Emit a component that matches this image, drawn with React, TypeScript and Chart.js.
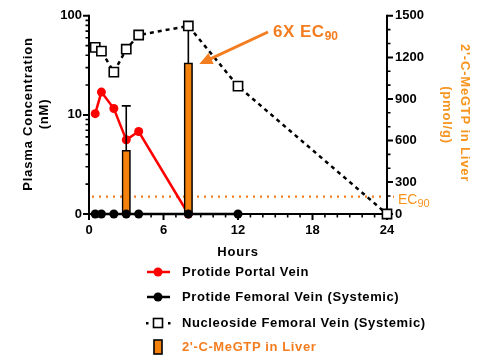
import React, { useEffect, useRef } from 'react';
import { Chart, registerables } from 'chart.js';

Chart.register(...registerables);

// ---- data ----
const portalHours = [0.5, 1, 2, 3, 4, 8];
const portalConc = [10.3, 17, 11.6, 5.6, 6.8, 0];
const femoralHours = [0.5, 1, 2, 3, 4, 8, 12];
const femoralConc = [0, 0, 0, 0, 0, 0, 0];
const nucleosideHours = [0.5, 1, 2, 3, 4, 8, 12, 24];
const nucleosideConc = [48, 44, 27, 46, 64, 79, 19.5, 0];
const liverHours = [3, 8];
const liverMeGTP = [530, 1160];
const liverMeGTPErr = [320, 270];
const ec90 = 195;

const xTicks = [0, 6, 12, 18, 24];
const leftTicks = [0, 10, 100];
const rightTicks = [0, 300, 600, 900, 1200, 1500];
const rightMinorTicks = [200, 400, 500, 700, 800, 1000, 1100, 1300, 1400];

const legendLabels = [
  'Protide Portal Vein',
  'Protide Femoral Vein (Systemic)',
  'Nucleoside Femoral Vein (Systemic)',
  "2'-C-MeGTP in Liver",
];

// axis floors that are labelled "0"
const LOG_FLOOR = 1;
const RIGHT_FLOOR = 70;
const toLeft = (v: number) => (v <= 0 ? LOG_FLOOR : v);
const toRight = (v: number) => (v <= 0 ? RIGHT_FLOOR : v);

const FONT_FAMILY = "'Liberation Sans', Arial, sans-serif";
const ORANGE_BAR = '#F5820D';
const ORANGE_TEXT = '#F7941D';
const ORANGE_ARROW = '#F47D20';

function drawText(
  ctx: CanvasRenderingContext2D,
  text: string,
  x: number,
  y: number,
  font: string,
  color: string,
  align: CanvasTextAlign = 'left',
  spacing = 0,
  baseline: CanvasTextBaseline = 'middle'
) {
  ctx.save();
  ctx.font = font;
  (ctx as any).letterSpacing = spacing + 'px';
  ctx.fillStyle = color;
  ctx.textAlign = align;
  ctx.textBaseline = baseline;
  ctx.fillText(text, x, y);
  ctx.restore();
}

const customPlugin = {
  id: 'custom',
  beforeDatasetsDraw(chart: any) {
    const { ctx, chartArea, scales } = chart;
    const x = scales.x;
    const y = scales.y;
    const y2 = scales.y2;
    const L = chartArea.left;
    const R = chartArea.right;
    const B = chartArea.bottom;
    const T = chartArea.top;

    // EC90 dotted line
    ctx.save();
    const ecY = y2.getPixelForValue(ec90);
    ctx.strokeStyle = ORANGE_ARROW;
    ctx.lineWidth = 2.2;
    ctx.setLineDash([2, 5]);
    ctx.beginPath();
    ctx.moveTo(L + 3, ecY);
    ctx.lineTo(R + 7, ecY);
    ctx.stroke();
    ctx.restore();

    // axes
    ctx.save();
    ctx.strokeStyle = '#000';
    ctx.lineWidth = 2;
    ctx.beginPath();
    ctx.moveTo(L, T - 1);
    ctx.lineTo(L, B + 1);
    ctx.moveTo(L - 1, B);
    ctx.lineTo(R + 1, B);
    ctx.moveTo(R, T - 1);
    ctx.lineTo(R, B + 1);
    ctx.stroke();

    // left ticks
    const leftMinor: number[] = [];
    for (let d = 1; d <= 10; d *= 10) for (let m = 2; m <= 9; m++) leftMinor.push(m * d);
    ctx.lineWidth = 2;
    ctx.beginPath();
    leftTicks.forEach((v) => {
      const p = y.getPixelForValue(toLeft(v));
      ctx.moveTo(L - 6, p);
      ctx.lineTo(L, p);
    });
    rightTicks.forEach((v) => {
      const p = y2.getPixelForValue(toRight(v));
      ctx.moveTo(R, p);
      ctx.lineTo(R + 6, p);
    });
    xTicks.forEach((v) => {
      const p = x.getPixelForValue(v);
      ctx.moveTo(p, B);
      ctx.lineTo(p, B + 6);
    });
    ctx.stroke();
    ctx.lineWidth = 1.6;
    ctx.beginPath();
    leftMinor.forEach((v) => {
      const p = y.getPixelForValue(v);
      ctx.moveTo(L - 3.5, p);
      ctx.lineTo(L, p);
    });
    rightMinorTicks.forEach((v) => {
      const p = y2.getPixelForValue(v);
      ctx.moveTo(R, p);
      ctx.lineTo(R + 3.5, p);
    });
    for (let h = 1; h < 24; h++) {
      if (h % 6 === 0) continue;
      const p = x.getPixelForValue(h);
      ctx.moveTo(p, B);
      ctx.lineTo(p, B + 3.5);
    }
    ctx.stroke();
    ctx.restore();
  },
  afterDatasetDraw(chart: any, args: any) {
    if (args.index !== 3) return;
    const { ctx, scales } = chart;
    ctx.save();
    ctx.strokeStyle = '#000';
    ctx.lineWidth = 1.6;
    ctx.beginPath();
    liverHours.forEach((h, i) => {
      const px = scales.x.getPixelForValue(h);
      const top = scales.y2.getPixelForValue(liverMeGTP[i] + liverMeGTPErr[i]);
      const bar = scales.y2.getPixelForValue(liverMeGTP[i]);
      ctx.moveTo(px, bar);
      ctx.lineTo(px, top);
      ctx.moveTo(px - 4.5, top);
      ctx.lineTo(px + 4.5, top);
    });
    ctx.stroke();
    ctx.restore();
  },
  afterDraw(chart: any) {
    const { ctx, chartArea, scales } = chart;
    const bold13 = `bold 13px ${FONT_FAMILY}`;

    // left title
    ctx.save();
    ctx.translate(28, 114);
    ctx.rotate(-Math.PI / 2);
    drawText(ctx, 'Plasma Concentration', 0, 0, bold13, '#000', 'center', 0.8);
    ctx.restore();
    ctx.save();
    ctx.translate(44, 114);
    ctx.rotate(-Math.PI / 2);
    drawText(ctx, '(nM)', 0, 0, bold13, '#000', 'center', 0.8);
    ctx.restore();

    // right title
    ctx.save();
    ctx.translate(465, 113);
    ctx.rotate(Math.PI / 2);
    drawText(ctx, "2'-C-MeGTP in Liver", 0, 0, bold13, ORANGE_TEXT, 'center', 0.8);
    ctx.restore();
    ctx.save();
    ctx.translate(447, 115);
    ctx.rotate(Math.PI / 2);
    drawText(ctx, '(pmol/g)', 0, 0, bold13, ORANGE_TEXT, 'center', 0.8);
    ctx.restore();

    // x title
    drawText(ctx, 'Hours', (chartArea.left + chartArea.right) / 2, 252, bold13, '#000', 'center', 0.8);

    // EC90 label
    const ecY = scales.y2.getPixelForValue(ec90);
    ctx.save();
    ctx.font = `14px ${FONT_FAMILY}`;
    const ecW = ctx.measureText('EC').width;
    ctx.restore();
    drawText(ctx, 'EC', 398, ecY + 7, `14px ${FONT_FAMILY}`, ORANGE_TEXT, 'left', 0, 'alphabetic');
    drawText(ctx, '90', 398 + ecW, ecY + 10, `11px ${FONT_FAMILY}`, ORANGE_TEXT, 'left', 0, 'alphabetic');

    // annotation "6X EC90" with arrow
    const big = `bold 17px ${FONT_FAMILY}`;
    ctx.save();
    ctx.font = big;
    (ctx as any).letterSpacing = '0.5px';
    const annW = ctx.measureText('6X EC').width;
    ctx.restore();
    drawText(ctx, '6X EC', 273, 37, big, ORANGE_ARROW, 'left', 0.5, 'alphabetic');
    drawText(ctx, '90', 273 + annW, 40, `bold 12px ${FONT_FAMILY}`, ORANGE_ARROW, 'left', 0, 'alphabetic');

    const tipX = scales.x.getPixelForValue(liverHours[1]) + 11;
    const tipY = scales.y2.getPixelForValue(liverMeGTP[1]) + 1;
    const sx = 268;
    const sy = 32;
    const dx = tipX - sx;
    const dy = tipY - sy;
    const len = Math.hypot(dx, dy);
    const ux = dx / len;
    const uy = dy / len;
    const headL = 13;
    const headW = 6;
    const bx = tipX - ux * headL;
    const by = tipY - uy * headL;
    ctx.save();
    ctx.strokeStyle = ORANGE_ARROW;
    ctx.fillStyle = ORANGE_ARROW;
    ctx.lineWidth = 3;
    ctx.beginPath();
    ctx.moveTo(sx, sy);
    ctx.lineTo(bx + ux * 2, by + uy * 2);
    ctx.stroke();
    ctx.beginPath();
    ctx.moveTo(tipX, tipY);
    ctx.lineTo(bx - uy * headW, by + ux * headW);
    ctx.lineTo(bx + uy * headW, by - ux * headW);
    ctx.closePath();
    ctx.fill();
    ctx.restore();

    // legend
    const rows = [272, 297, 323, 347];
    const cx = 158;
    const textX = 182;
    const font = `bold 13px ${FONT_FAMILY}`;
    ctx.save();
    // row 1: red line + dot
    ctx.strokeStyle = '#FF0000';
    ctx.fillStyle = '#FF0000';
    ctx.lineWidth = 2.5;
    ctx.beginPath();
    ctx.moveTo(147, rows[0]);
    ctx.lineTo(170, rows[0]);
    ctx.stroke();
    ctx.beginPath();
    ctx.arc(cx, rows[0], 4.5, 0, Math.PI * 2);
    ctx.fill();
    // row 2: black line + dot
    ctx.strokeStyle = '#000';
    ctx.fillStyle = '#000';
    ctx.beginPath();
    ctx.moveTo(147, rows[1]);
    ctx.lineTo(170, rows[1]);
    ctx.stroke();
    ctx.beginPath();
    ctx.arc(cx, rows[1], 4.5, 0, Math.PI * 2);
    ctx.fill();
    // row 3: dashes + open square
    ctx.fillRect(146, rows[2] - 1, 2.5, 2.5);
    ctx.fillRect(168, rows[2] - 1, 2.5, 2.5);
    ctx.fillStyle = '#fff';
    ctx.lineWidth = 1.6;
    ctx.fillRect(cx - 4.5, rows[2] - 4.5, 9, 9);
    ctx.strokeRect(cx - 4.5, rows[2] - 4.5, 9, 9);
    // row 4: bar
    ctx.fillStyle = ORANGE_BAR;
    ctx.fillRect(cx - 4, rows[3] - 7, 8, 14);
    ctx.strokeRect(cx - 4, rows[3] - 7, 8, 14);
    ctx.restore();
    legendLabels.forEach((t, i) => {
      drawText(ctx, t, textX, rows[i], font, i === 3 ? ORANGE_ARROW : '#000', 'left', 0.6);
    });
  },
};

export default function App() {
  const canvasRef = useRef<HTMLCanvasElement | null>(null);

  useEffect(() => {
    const canvas = canvasRef.current;
    if (!canvas) return;
    const ctx2d = canvas.getContext('2d') as any;
    if (ctx2d) ctx2d.letterSpacing = '0.8px';

    const tickFont = { family: FONT_FAMILY, size: 13, weight: 'bold' as const };

    const chart = new Chart(canvas, {
      type: 'line',
      data: {
        datasets: [
          {
            type: 'line',
            label: legendLabels[0],
            data: portalHours.map((h, i) => ({ x: h, y: toLeft(portalConc[i]) })),
            yAxisID: 'y',
            borderColor: '#FF0000',
            backgroundColor: '#FF0000',
            borderWidth: 2.5,
            pointRadius: 4.5,
            pointBorderWidth: 0,
            pointBackgroundColor: '#FF0000',
            tension: 0,
            clip: false as any,
            order: 4,
          },
          {
            type: 'line',
            label: legendLabels[1],
            data: femoralHours.map((h, i) => ({ x: h, y: toLeft(femoralConc[i]) })),
            yAxisID: 'y',
            borderColor: '#000',
            backgroundColor: '#000',
            borderWidth: 2.5,
            pointRadius: 4.5,
            pointBorderWidth: 0,
            pointBackgroundColor: '#000',
            tension: 0,
            clip: false as any,
            order: 2,
          },
          {
            type: 'line',
            label: legendLabels[2],
            data: nucleosideHours.map((h, i) => ({ x: h, y: toLeft(nucleosideConc[i]) })),
            yAxisID: 'y',
            borderColor: '#000',
            backgroundColor: '#fff',
            borderWidth: 2.5,
            borderDash: [4, 4],
            pointStyle: 'rect',
            pointRadius: 6.5,
            pointBorderWidth: 1.6,
            pointBorderColor: '#000',
            pointBackgroundColor: '#fff',
            tension: 0,
            clip: false as any,
            order: 1,
          },
          {
            type: 'bar',
            label: legendLabels[3],
            data: liverHours.map((h, i) => ({ x: h, y: liverMeGTP[i] })),
            yAxisID: 'y2',
            backgroundColor: ORANGE_BAR,
            borderColor: '#000',
            borderWidth: 1.6,
            borderSkipped: false,
            barThickness: 8.5,
            base: RIGHT_FLOOR,
            grouped: false,
            order: 3,
          } as any,
        ],
      },
      options: {
        responsive: false,
        animation: false,
        devicePixelRatio: 1,
        layout: { padding: { top: 14, left: 0, right: 0, bottom: 0 } },
        plugins: {
          legend: { display: false },
          tooltip: { enabled: false },
        },
        scales: {
          x: {
            type: 'linear',
            position: 'bottom',
            min: 0,
            max: 24,
            offset: false,
            afterBuildTicks: (axis: any) => {
              axis.ticks = xTicks.map((v) => ({ value: v }));
            },
            ticks: {
              font: tickFont,
              color: '#000',
              padding: 9,
              maxRotation: 0,
              autoSkip: false,
            },
            grid: { display: false, drawTicks: false, offset: false },
            border: { display: false },
            afterFit: (s: any) => {
              s.height = 142;
            },
          },
          y: {
            type: 'logarithmic',
            position: 'left',
            min: 1,
            max: 100,
            afterBuildTicks: (axis: any) => {
              axis.ticks = leftTicks.map((v) => ({ value: toLeft(v) }));
            },
            ticks: {
              font: tickFont,
              color: '#000',
              padding: 7,
              autoSkip: false,
              callback: (v: any) => (Number(v) === LOG_FLOOR ? '0' : String(v)),
            },
            grid: { display: false, drawTicks: false },
            border: { display: false },
            afterFit: (s: any) => {
              s.width = 89;
            },
          },
          y2: {
            type: 'linear',
            position: 'right',
            min: RIGHT_FLOOR,
            max: 1500,
            beginAtZero: false,
            afterBuildTicks: (axis: any) => {
              axis.ticks = rightTicks.map((v) => ({ value: toRight(v) }));
            },
            ticks: {
              font: tickFont,
              color: '#000',
              padding: 8,
              autoSkip: false,
              callback: (v: any) => (Number(v) === RIGHT_FLOOR ? '0' : String(v)),
            },
            grid: { display: false, drawTicks: false },
            border: { display: false },
            afterFit: (s: any) => {
              s.width = 90;
            },
          },
        } as any,
      },
      plugins: [customPlugin],
    });

    return () => {
      chart.destroy();
    };
  }, []);

  return (
    <div style={{ position: 'absolute', left: 0, top: 0, width: 477, height: 356, background: '#fff' }}>
      <canvas ref={canvasRef} width={477} height={356} style={{ width: 477, height: 356, display: 'block' }} />
    </div>
  );
}
